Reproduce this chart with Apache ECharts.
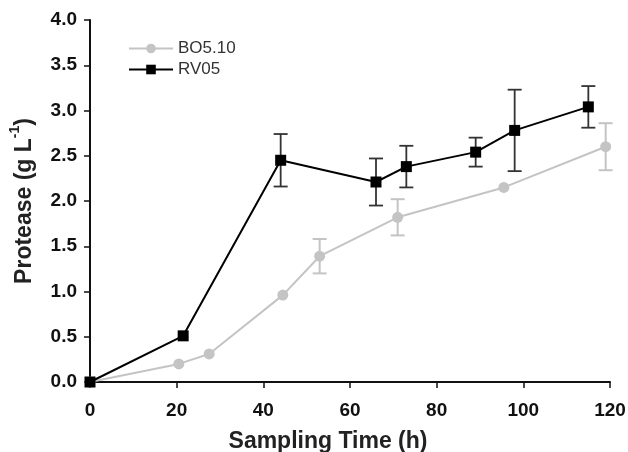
<!DOCTYPE html>
<html><head><meta charset="utf-8">
<script src="https://cdn.jsdelivr.net/npm/echarts@6/dist/echarts.min.js"></script>
<style>html,body{margin:0;padding:0;background:#fff}#c{width:628px;height:452px}</style>
</head><body><div id="c"></div>
<script>
const xTicks = [0, 20, 40, 60, 80, 100, 120];
const yTicks = [0, 0.5, 1, 1.5, 2, 2.5, 3, 3.5, 4];
const boTime = [0, 20.5, 27.5, 44.5, 53, 71, 95.5, 119];
const boMean = [0, 0.20, 0.31, 0.96, 1.39, 1.82, 2.15, 2.60];
const boErr  = [0, 0, 0, 0, 0.19, 0.20, 0, 0.26];
const rvTime = [0, 21.5, 44, 66, 73, 89, 98, 115];
const rvMean = [0, 0.51, 2.45, 2.21, 2.38, 2.54, 2.78, 3.04];
const rvErr  = [0, 0, 0.29, 0.26, 0.23, 0.16, 0.45, 0.23];

const GRAY = '#c4c4c4', BLACK = '#000';
const font = '"Liberation Sans", Arial, sans-serif';

function errSeries(times, means, errs, color, lw) {
  const data = times.map((t, i) => [t, means[i] - errs[i], means[i] + errs[i]]).filter((d, i) => errs[i] > 0);
  return {
    type: 'custom', silent: true, z: 1, clip: false,
    data: data,
    renderItem: function (params, api) {
      const x = api.value(0);
      const lo = api.coord([x, api.value(1)]);
      const hi = api.coord([x, api.value(2)]);
      const w = 7;
      const st = { stroke: color, lineWidth: lw };
      return { type: 'group', children: [
        { type: 'line', shape: { x1: lo[0], y1: lo[1], x2: hi[0], y2: hi[1] }, style: st },
        { type: 'line', shape: { x1: lo[0] - w, y1: lo[1], x2: lo[0] + w, y2: lo[1] }, style: st },
        { type: 'line', shape: { x1: hi[0] - w, y1: hi[1], x2: hi[0] + w, y2: hi[1] }, style: st }
      ]};
    }
  };
}

const chart = echarts.init(document.getElementById('c'));
chart.setOption({
  animation: false,
  backgroundColor: '#fff',
  grid: { left: 90, right: 18, top: 20, bottom: 70, containLabel: false, outerBoundsMode: 'none' },
  legend: {
    orient: 'vertical', left: 123, top: 35, itemWidth: 44, itemHeight: 12, itemGap: 4,
    textStyle: { fontFamily: font, fontSize: 17, color: '#333' },
    data: ['BO5.10', 'RV05']
  },
  xAxis: {
    type: 'value', min: 0, max: 120, interval: 20,
    name: 'Sampling Time (h)', nameLocation: 'middle', nameGap: 48,
    nameTextStyle: { fontFamily: font, fontSize: 23, fontWeight: 'bold', color: '#222', padding: [0, 44, 0, 0] },
    axisLine: { lineStyle: { color: '#111', width: 2 } },
    axisTick: { show: true, length: 6, lineStyle: { color: '#111', width: 1.5 } },
    axisLabel: { fontFamily: font, fontSize: 19, fontWeight: 'bold', color: '#111', margin: 19,
      formatter: v => xTicks.includes(v) ? String(v) : '' },
    splitLine: { show: false }
  },
  yAxis: {
    type: 'value', min: 0, max: 4, interval: 0.5,
    name: '{m|Protease (g L}{s|-1}{m|)}', nameLocation: 'middle', nameGap: 54, nameRotate: 90,
    nameTextStyle: { rich: {
      m: { fontFamily: font, fontSize: 23, fontWeight: 'bold', color: '#222', lineHeight: 28, verticalAlign: 'bottom' },
      s: { fontFamily: font, fontSize: 14, fontWeight: 'bold', color: '#222', lineHeight: 28, verticalAlign: 'top' }
    } },
    axisLine: { show: true, lineStyle: { color: '#111', width: 2 } },
    axisTick: { show: true, length: 6, lineStyle: { color: '#111', width: 1.5 } },
    axisLabel: { fontFamily: font, fontSize: 19, fontWeight: 'bold', color: '#111', margin: 13,
      formatter: v => yTicks.includes(v) ? v.toFixed(1) : '' },
    splitLine: { show: false }
  },
  series: [
    errSeries(boTime, boMean, boErr, GRAY, 2),
    errSeries(rvTime, rvMean, rvErr, '#333', 1.8),
    {
      name: 'BO5.10', type: 'line', z: 3, clip: false,
      data: boTime.map((t, i) => [t, boMean[i]]),
      symbol: 'circle', symbolSize: 11,
      lineStyle: { color: GRAY, width: 2 }, itemStyle: { color: GRAY }
    },
    {
      name: 'RV05', type: 'line', z: 4, clip: false,
      data: rvTime.map((t, i) => [t, rvMean[i]]),
      symbol: 'rect', symbolSize: 11,
      lineStyle: { color: BLACK, width: 2 }, itemStyle: { color: BLACK }
    }
  ]
});
</script></body></html>
